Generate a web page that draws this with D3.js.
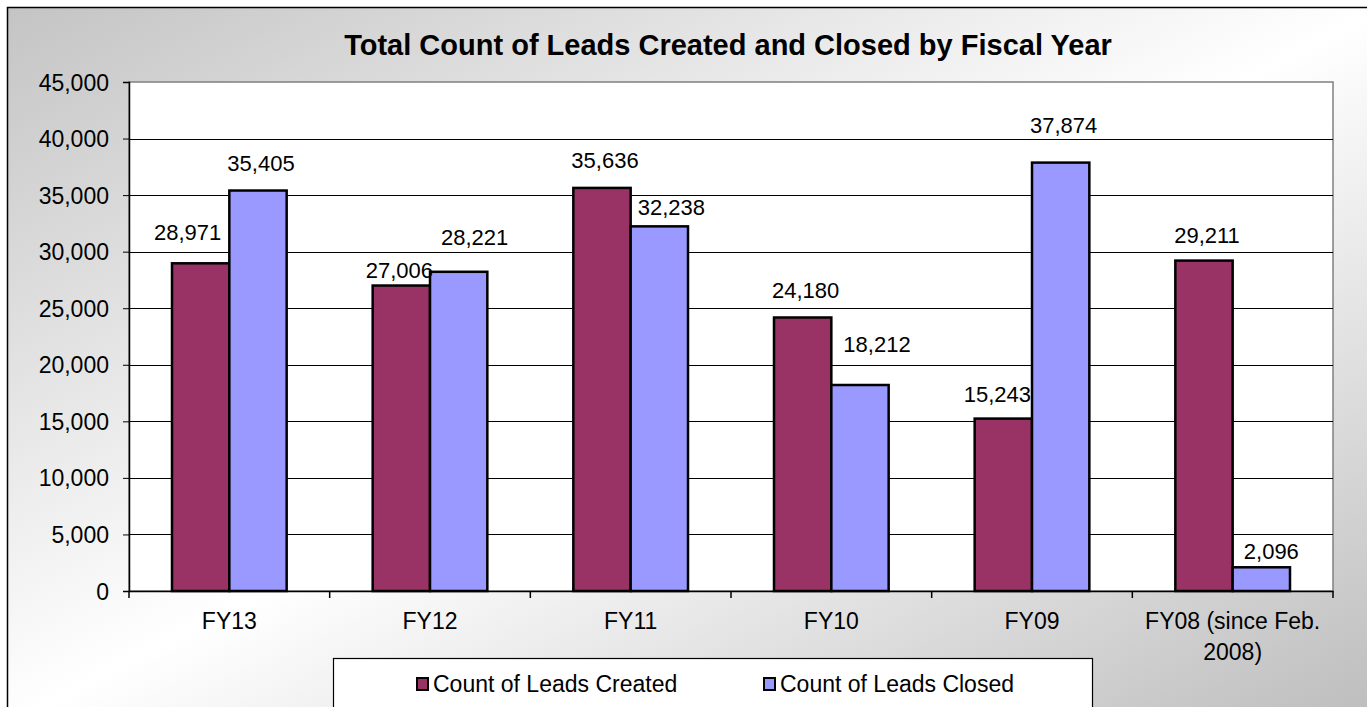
<!DOCTYPE html>
<html>
<head>
<meta charset="utf-8">
<script src="https://cdn.jsdelivr.net/npm/d3@7"></script>
<style>
  body { margin: 0; padding: 0; background: #fff; }
  text { font-family: "Liberation Sans", Arial, sans-serif; fill: #000; }
</style>
</head>
<body>
<div id="chart"></div>
<script>
var W = 1367, H = 707;
var margin = {top: 82, right: 34, bottom: 116, left: 129},
    width = W - margin.left - margin.right,
    height = H - margin.top - margin.bottom;

// data
var categories = ["FY13", "FY12", "FY11", "FY10", "FY09", "FY08 (since Feb.|2008)"];
var seriesNames = ["Count of Leads Created", "Count of Leads Closed"];
var leadsCreated = [28971, 27006, 35636, 24180, 15243, 29211];
var leadsClosed = [35405, 28221, 32238, 18212, 37874, 2096];
var yTicks = [0, 5000, 10000, 15000, 20000, 25000, 30000, 35000, 40000, 45000];
var colors = ["#993366", "#9999ff"];

// hand-placed data label nudges (x shift, gap above bar), as in the original
var createdLabelNudge = [[-13, 23], [-2, 8], [3, 20], [3, 19], [-6, 17], [3, 18]];
var closedLabelNudge = [[3, 20], [16, 27], [12, 11], [17, 33], [3, 30], [10, 8]];

var svg = d3.select("#chart")
  .append("svg")
    .attr("width", W)
    .attr("height", H);

// background gradient
var defs = svg.append("defs");
var grad = defs.append("linearGradient")
    .attr("id", "bg")
    .attr("x1", "0%").attr("y1", "0%")
    .attr("x2", "100%").attr("y2", "100%");
grad.append("stop").attr("offset", "0%").attr("stop-color", "#c4c4c4");
grad.append("stop").attr("offset", "50%").attr("stop-color", "#ffffff");
grad.append("stop").attr("offset", "100%").attr("stop-color", "#bcbcbc");

svg.append("rect")
  .attr("x", 7.5).attr("y", 7.5)
  .attr("width", W + 10).attr("height", H + 10)
  .attr("fill", "url(#bg)")
  .attr("stroke", "#000")
  .attr("stroke-width", 1.5);

// title
svg.append("text")
  .attr("x", 728).attr("y", 55)
  .attr("text-anchor", "middle")
  .style("font-size", "29px")
  .style("font-weight", "bold")
  .text("Total Count of Leads Created and Closed by Fiscal Year");

var g = svg.append("g")
  .attr("transform", "translate(" + margin.left + "," + margin.top + ")");

var x0 = d3.scaleBand().domain(categories).range([0, width]).paddingInner(0).paddingOuter(0);
var x1 = d3.scaleBand().domain(seriesNames).range([0, x0.bandwidth()]).paddingInner(0).paddingOuter(0.75);
var y = d3.scaleLinear().domain([0, 45000]).range([height, 0]);

// plot area
g.append("rect")
  .attr("width", width).attr("height", height)
  .attr("fill", "#fff")
  .attr("stroke", "#808080")
  .attr("stroke-width", 1.5);

// gridlines
g.selectAll(".grid")
  .data(yTicks.slice(1, -1))
  .enter().append("line")
    .attr("x1", 0).attr("x2", width)
    .attr("y1", function(d) { return Math.round(y(d)) + 0.5; })
    .attr("y2", function(d) { return Math.round(y(d)) + 0.5; })
    .attr("stroke", "#000")
    .attr("stroke-width", 1);

// y axis
var yAxis = d3.axisLeft(y).tickValues(yTicks).tickSize(6).tickPadding(14)
  .tickFormat(d3.format(","));
g.append("g").call(yAxis)
  .call(function(s) {
    s.select(".domain").attr("stroke", "#000").attr("stroke-width", 1.5);
    s.selectAll(".tick line").attr("stroke", "#000");
    s.selectAll("text").style("font-size", "23px").attr("fill", "#000").attr("dy", "0.35em");
  });

// x axis
var xAxis = d3.axisBottom(x0).tickSize(0).tickFormat("");
g.append("g").attr("transform", "translate(0," + height + ")").call(xAxis)
  .call(function(s) {
    s.select(".domain").attr("stroke", "#000").attr("stroke-width", 1.5);
  });

// category separator ticks
g.selectAll(".xtick")
  .data(categories.concat(["end"]))
  .enter().append("line")
    .attr("x1", function(d, i) { return i < categories.length ? x0(d) : width; })
    .attr("x2", function(d, i) { return i < categories.length ? x0(d) : width; })
    .attr("y1", height).attr("y2", height + 7)
    .attr("stroke", "#000").attr("stroke-width", 1.5);

// category labels
var catLabels = g.selectAll(".cat")
  .data(categories)
  .enter().append("text")
    .attr("x", function(d) { return x0(d) + x0.bandwidth() / 2; })
    .attr("y", height + 38)
    .attr("text-anchor", "middle")
    .style("font-size", "23px");
catLabels.each(function(d) {
  var parts = d.split("|");
  var t = d3.select(this);
  parts.forEach(function(p, i) {
    t.append("tspan")
      .attr("x", t.attr("x"))
      .attr("dy", i === 0 ? 0 : "1.35em")
      .text(p);
  });
});

// bars
var rows = categories.map(function(c, i) {
  return {cat: c, values: [
    {s: seriesNames[0], v: leadsCreated[i], nudge: createdLabelNudge[i]},
    {s: seriesNames[1], v: leadsClosed[i], nudge: closedLabelNudge[i]}
  ]};
});

var groups = g.selectAll(".grp")
  .data(rows)
  .enter().append("g")
    .attr("transform", function(d) { return "translate(" + x0(d.cat) + ",0)"; });

groups.selectAll("rect")
  .data(function(d) { return d.values; })
  .enter().append("rect")
    .attr("x", function(d) { return x1(d.s); })
    .attr("y", function(d) { return y(d.v); })
    .attr("width", x1.bandwidth())
    .attr("height", function(d) { return height - y(d.v); })
    .attr("fill", function(d, i) { return colors[i]; })
    .attr("stroke", "#000")
    .attr("stroke-width", 2.5);

groups.selectAll(".lbl")
  .data(function(d) { return d.values; })
  .enter().append("text")
    .attr("x", function(d) { return x1(d.s) + x1.bandwidth() / 2 + d.nudge[0]; })
    .attr("y", function(d) { return y(d.v) - d.nudge[1]; })
    .attr("text-anchor", "middle")
    .style("font-size", "22px")
    .text(function(d) { return d3.format(",")(d.v); });

// legend
svg.append("rect")
  .attr("x", 333.5).attr("y", 658.5)
  .attr("width", 759).attr("height", 60)
  .attr("fill", "#fff")
  .attr("stroke", "#000")
  .attr("stroke-width", 1.2);

var legX = [417, 764];
seriesNames.forEach(function(s, i) {
  svg.append("rect")
    .attr("x", legX[i]).attr("y", 678)
    .attr("width", 11).attr("height", 12)
    .attr("fill", colors[i])
    .attr("stroke", "#000").attr("stroke-width", 2);
  svg.append("text")
    .attr("x", legX[i] + 16).attr("y", 692)
    .style("font-size", "23px")
    .text(s);
});
</script>
</body>
</html>
